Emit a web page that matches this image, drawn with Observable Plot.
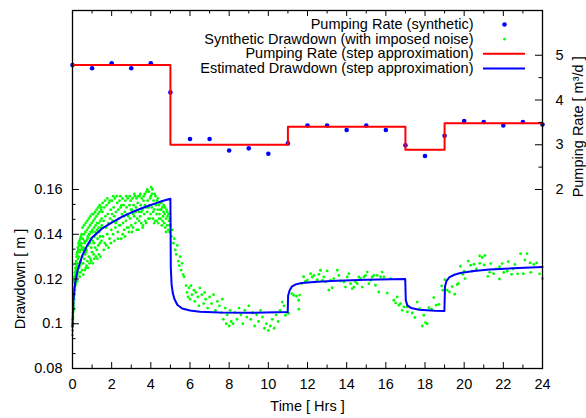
<!DOCTYPE html>
<html><head><meta charset="utf-8">
<script src="https://cdn.jsdelivr.net/npm/d3@7"></script>
<script src="https://cdn.jsdelivr.net/npm/@observablehq/plot@0.6"></script>
<style>body{margin:0;background:#fff}</style>
</head><body><div id="chart"></div>
<script>
// ---- data ----
const hours = [0,1,2,3,4,5,6,7,8,9,10,11,12,13,14,15,16,17,18,19,20,21,22,23,24];
const rateSynthetic = [4.78,4.71,4.82,4.71,4.82,4.17,3.13,3.13,2.87,2.92,2.80,3.03,3.43,3.43,3.33,3.43,3.33,2.99,2.75,3.20,3.53,3.51,3.43,3.51,3.45];
const stepTimes = [0,5,11,17,19,24];
const stepRates = [4.78,3.0,3.4,2.89,3.48];
const estimated = [
 [0,0.0986],[0.01,0.101],[0.02,0.104],[0.05,0.1105],[0.1,0.1155],[0.15,0.119],[0.25,0.1235],[0.35,0.1265],[0.5,0.1305],
 [0.75,0.135],[1.0,0.1385],[1.5,0.1425],[2.0,0.1452],[2.5,0.1477],[3.0,0.1497],[3.5,0.1515],[4.0,0.1531],[4.5,0.1546],[5.0,0.1559],
 [5.02,0.125],[5.06,0.1175],[5.12,0.1138],[5.2,0.1112],[5.35,0.1085],[5.6,0.1068],[6.0,0.1059],[6.5,0.1054],[7.5,0.1050],[9.0,0.1049],[10.99,0.1052],
 [11.01,0.1125],[11.08,0.1148],[11.2,0.1166],[11.4,0.1176],[11.7,0.1182],[12.5,0.1188],[13.5,0.1192],[15.0,0.1197],[16.99,0.1200],
 [17.02,0.1105],[17.1,0.1082],[17.3,0.107],[17.7,0.1063],[18.5,0.1058],[18.99,0.1057],
 [19.02,0.1165],[19.1,0.1192],[19.25,0.1208],[19.5,0.1219],[19.8,0.1227],[20.5,0.1236],[21.3,0.1242],[22.5,0.1248],[24.0,0.1254]
];
const noisy = [
 [0,0.095],[0.005,0.099],[0.01,0.097],[0.015,0.102],[0.02,0.1],[0.025,0.105],[0.03,0.103],[0.04,0.108],[0.045,0.106],[0.05,0.112],
 [0.06,0.109],[0.07,0.114],[0.08,0.111],[0.09,0.116],[0.1,0.113],[0.11,0.118],[0.12,0.115],[0.13,0.12],[0.14,0.117],[0.15,0.122],
 [0.16,0.118],[0.17,0.124],[0.18,0.119],[0.19,0.123],[0.2,0.12],[0.21,0.126],[0.22,0.121],[0.23,0.125],[0.24,0.119],[0.25,0.127],
 [0.26,0.122],[0.28,0.129],[0.3,0.123],[0.32,0.13],[0.34,0.125],[0.36,0.132],[0.38,0.126],[0.4,0.133],[0.42,0.128],[0.44,0.135],
 [0.46,0.127],[0.48,0.134],[0.5,0.13],
 [0.035,0.1],[0.055,0.107],[0.065,0.116],[0.085,0.119],[0.105,0.121],[0.125,0.123],[0.145,0.125],[0.165,0.127],[0.185,0.128],[0.205,0.13],
 [0.225,0.131],[0.245,0.132],[0.27,0.134],[0.29,0.133],[0.31,0.136],[0.33,0.135],[0.35,0.137],[0.37,0.121],[0.39,0.138],[0.41,0.123],
 [0.43,0.139],[0.45,0.136],[0.47,0.14],[0.49,0.124],
 [0.52,0.138],[0.54,0.127],[0.56,0.134],[0.58,0.14],[0.6,0.129],[0.62,0.136],[0.64,0.131],[0.66,0.141],[0.68,0.125],[0.7,0.137],
 [0.72,0.133],[0.74,0.142],[0.76,0.128],[0.78,0.139],[0.8,0.135],[0.82,0.143],[0.84,0.13],[0.86,0.14],[0.88,0.136],[0.9,0.144],
 [0.92,0.129],[0.94,0.138],[0.96,0.134],[0.98,0.145],[1.0,0.132],[1.02,0.141],[1.04,0.137],[1.06,0.146],[1.08,0.131],[1.1,0.143],
 [1.12,0.139],[1.14,0.147],[1.16,0.134],[1.18,0.144],[1.2,0.14],[1.22,0.148],[1.24,0.133],[1.26,0.142],[1.28,0.138],[1.3,0.149],
 [1.32,0.135],[1.34,0.145],[1.36,0.141],[1.38,0.15],[1.4,0.136],[1.42,0.146],[1.44,0.143],[1.46,0.151],[1.48,0.137],[1.5,0.144],
 [0.51,0.143],[0.55,0.122],[0.59,0.144],[0.63,0.124],[0.67,0.145],[0.71,0.126],[0.75,0.146],[0.79,0.125],[0.83,0.147],[0.87,0.127],
 [0.91,0.148],[0.95,0.128],[0.99,0.149],[1.03,0.127],[1.07,0.149],[1.11,0.129],[1.15,0.15],[1.19,0.13],[1.23,0.151],[1.27,0.129],
 [1.31,0.152],[1.35,0.131],[1.39,0.153],[1.43,0.13],[1.47,0.152],
 [0.53,0.133],[0.61,0.137],[0.69,0.132],[0.77,0.138],[0.85,0.14],[0.93,0.141],[1.01,0.142],[1.09,0.136],[1.17,0.141],[1.25,0.145],
 [1.33,0.143],[1.41,0.139],[1.49,0.147],
 [1.53,0.15],[1.56,0.139],[1.59,0.146],[1.62,0.152],[1.65,0.136],[1.68,0.148],[1.71,0.143],[1.74,0.153],[1.77,0.14],[1.8,0.149],
 [1.83,0.145],[1.86,0.154],[1.89,0.138],[1.92,0.147],[1.95,0.151],[1.98,0.142],[2.01,0.155],[2.04,0.146],[2.07,0.14],[2.1,0.152],
 [2.13,0.148],[2.16,0.156],[2.19,0.143],[2.22,0.15],[2.25,0.146],[2.28,0.154],[2.31,0.141],[2.34,0.151],[2.37,0.147],[2.4,0.155],
 [2.43,0.144],[2.46,0.152],[2.49,0.138],[2.52,0.149],[2.55,0.156],[2.58,0.145],[2.61,0.153],[2.64,0.142],[2.67,0.15],[2.7,0.155],
 [2.73,0.146],[2.76,0.152],[2.79,0.143],[2.82,0.156],[2.85,0.148],[2.88,0.141],[2.91,0.153],[2.94,0.147],[2.97,0.155],[3.0,0.144],
 [1.54,0.154],[1.6,0.133],[1.66,0.155],[1.72,0.135],[1.78,0.156],[1.84,0.134],[1.9,0.155],[1.96,0.136],[2.02,0.149],[2.08,0.157],
 [2.14,0.137],[2.2,0.145],[2.26,0.157],[2.32,0.138],[2.38,0.144],[2.44,0.157],[2.5,0.153],[2.56,0.14],[2.62,0.148],[2.68,0.139],
 [2.74,0.157],[2.8,0.149],[2.86,0.143],[2.92,0.157],[2.98,0.151],
 [3.03,0.151],[3.06,0.156],[3.09,0.143],[3.12,0.153],[3.15,0.148],[3.18,0.157],[3.21,0.145],[3.24,0.152],[3.27,0.156],[3.3,0.147],
 [3.33,0.154],[3.36,0.142],[3.39,0.15],[3.42,0.157],[3.45,0.148],[3.48,0.153],[3.51,0.145],[3.54,0.156],[3.57,0.151],[3.6,0.144],
 [3.63,0.155],[3.66,0.149],[3.69,0.158],[3.72,0.146],[3.75,0.152],[3.78,0.159],[3.81,0.15],[3.84,0.155],[3.87,0.147],[3.9,0.159],
 [3.93,0.153],[3.96,0.156],[3.99,0.149],[4.02,0.161],[4.05,0.152],[4.08,0.16],[4.11,0.147],[4.14,0.155],[4.17,0.151],[4.2,0.158],
 [4.23,0.146],[4.26,0.153],[4.29,0.149],[4.32,0.155],[4.35,0.151],[4.38,0.145],[4.41,0.153],[4.44,0.149],[4.47,0.154],[4.5,0.147],
 [4.53,0.151],[4.56,0.144],[4.59,0.152],[4.62,0.148],[4.65,0.15],[4.68,0.145],[4.71,0.149],[4.74,0.143],[4.77,0.147],[4.8,0.151],
 [4.83,0.144],[4.86,0.148],[4.89,0.142],[4.92,0.146],[4.95,0.144],[4.98,0.147],
 [3.04,0.141],[3.1,0.149],[3.16,0.158],[3.22,0.15],[3.28,0.142],[3.34,0.157],[3.4,0.146],[3.46,0.158],[3.52,0.15],[3.58,0.143],
 [3.64,0.157],[3.7,0.153],[3.76,0.145],[3.82,0.16],[3.88,0.152],[3.94,0.147],[4.0,0.157],[4.06,0.158],[4.12,0.15],[4.18,0.145],
 [4.24,0.157],[4.3,0.146],[4.36,0.156],[4.42,0.147],[4.48,0.151],[4.54,0.154],[4.6,0.146],[4.66,0.153],[4.72,0.152],[4.78,0.141],
 [4.84,0.15],[4.9,0.149],[4.96,0.141],
 [5.0,0.144],[5.05,0.139],[5.1,0.142],[5.15,0.136],[5.2,0.138],[5.25,0.133],[5.3,0.131],[5.35,0.135],[5.4,0.128],[5.45,0.126],
 [5.5,0.13],[5.55,0.124],[5.6,0.127],[5.65,0.122],[5.7,0.121],[5.8,0.117],[5.85,0.114],[5.9,0.112],[5.95,0.116],[6.0,0.111],
 [6.05,0.117],[6.1,0.113],[6.2,0.115],[6.25,0.11],[6.3,0.114],[6.4,0.112],[6.45,0.108],[6.5,0.116],[6.6,0.113],[6.7,0.109],
 [6.75,0.114],[6.8,0.111],[6.9,0.107],[7.0,0.112],[7.1,0.109],[7.2,0.113],[7.3,0.106],[7.4,0.11],[7.5,0.108],[7.6,0.105],
 [7.65,0.111],[7.7,0.102],[7.8,0.107],[7.85,0.1],[7.9,0.104],[8.0,0.099],[8.05,0.106],[8.1,0.101],[8.2,0.1],[8.3,0.105],
 [8.4,0.102],[8.5,0.107],[8.6,0.104],[8.7,0.1],[8.8,0.106],[8.9,0.103],[9.0,0.108],[9.1,0.102],[9.2,0.105],[9.3,0.099],
 [9.4,0.104],[9.5,0.101],[9.6,0.106],[9.7,0.103],[9.8,0.098],[9.9,0.1],[10.0,0.097],[10.1,0.099],[10.2,0.102],[10.3,0.098],
 [10.4,0.104],[10.5,0.101],[10.6,0.106],[10.71,0.1097],[10.8,0.108],[10.87,0.1038],[10.95,0.105],[11.04,0.1046],[11.2,0.1135],
 [11.3,0.1127],[11.44,0.1123],[11.55,0.1105],[11.56,0.1065],[11.6,0.1128],[11.7,0.118],[11.8,0.121],[11.9,0.119],[12.0,0.1195],
 [12.16,0.1224],[12.24,0.1209],[12.33,0.1216],[12.41,0.1187],[12.5,0.1197],[12.58,0.1221],[12.66,0.1239],[12.75,0.1194],[12.83,0.1209],[12.92,0.1187],
 [13.0,0.1236],[13.09,0.115],[13.17,0.1194],[13.26,0.1161],[13.34,0.1202],[13.52,0.1239],[13.6,0.1216],[13.69,0.1191],[13.86,0.1187],[13.94,0.1164],
 [14.03,0.1209],[14.11,0.1224],[14.2,0.1179],[14.28,0.1157],[14.37,0.1164],[14.45,0.1187],[14.54,0.1179],[14.62,0.1209],[14.71,0.1202],[14.79,0.1164],
 [14.88,0.1209],[14.96,0.1216],[15.05,0.1231],[15.13,0.1179],[15.22,0.1194],[15.3,0.1209],[15.39,0.1216],[15.47,0.1172],[15.56,0.1216],[15.64,0.1142],
 [15.73,0.1209],[15.81,0.1231],[15.9,0.1209],[16.07,0.1137],[16.24,0.1202],[16.41,0.1105],[16.5,0.1093],[16.58,0.112],[16.67,0.1083],[16.75,0.109],
 [16.84,0.106],[16.92,0.1075],[17.09,0.1075],[17.1,0.1053],[17.35,0.1048],[17.48,0.1028],[17.6,0.1097],[17.72,0.1068],[17.86,0.099],[17.94,0.1038],
 [18.03,0.1005],[18.11,0.1],[18.2,0.1072],[18.33,0.1065],[18.45,0.1117],[18.57,0.1083],[18.71,0.1087],[18.85,0.1169],[18.91,0.115],[19.01,0.1197],
 [19.13,0.115],[19.25,0.1142],[19.39,0.1166],[19.52,0.1132],[19.64,0.1175],[19.7,0.118],[19.81,0.1257],[19.93,0.1221],[20.0,0.1235],[20.04,0.1202],
 [20.21,0.128],[20.33,0.1261],[20.4,0.1235],[20.5,0.1266],[20.62,0.1245],[20.79,0.1303],[20.8,0.127],[20.92,0.1296],[21.02,0.1263],[21.06,0.1305],
 [21.21,0.1212],[21.3,0.123],[21.36,0.1269],[21.5,0.1224],[21.63,0.1245],[21.8,0.12],[21.8,0.1255],[21.94,0.1269],[22.02,0.1229],[22.2,0.1235],
 [22.25,0.1278],[22.42,0.1221],[22.5,0.1245],[22.59,0.1265],[22.73,0.1223],[22.88,0.1313],[23.02,0.1224],[23.1,0.1285],[23.21,0.1313],[23.36,0.1272],
 [23.4,0.123],[23.56,0.1265],[23.7,0.1272],[23.85,0.1223],[24.0,0.1202]
];
const xTickLabels = [0,2,4,6,8,10,12,14,16,18,20,22,24];
const xMinorTicks = [1,3,5,7,9,11,13,15,17,19,21,23];
const drawdownTickLabels = [0.08,0.1,0.12,0.14,0.16];
const rateTickLabels = [2,3,4,5];
const rateMinorTicks = [2.5,3.5,4.5];
const legendLabels = ["Pumping Rate (synthetic)","Synthetic Drawdown (with imposed noise)","Pumping Rate (step approximation)","Estimated Drawdown (step approximation)"];

// ---- scales ----
const ddDomain = [0.08, 0.24];
const rateDomain = [-2, 6];
const toDD = r => ddDomain[0] + (r - rateDomain[0]) * (ddDomain[1]-ddDomain[0])/(rateDomain[1]-rateDomain[0]);
const fromDD = v => rateDomain[0] + (v - ddDomain[0]) * (rateDomain[1]-rateDomain[0])/(ddDomain[1]-ddDomain[0]);
const ddMinor = [];
for (let i = 0; i < drawdownTickLabels.length - 1; i++) {
  const a = drawdownTickLabels[i], b = drawdownTickLabels[i+1];
  ddMinor.push(a + (b-a)/3, a + 2*(b-a)/3);
}

const W = 586, H = 418, mL = 72, mR = 44, mT = 10, mB = 50;
const innerH = H - mT - mB, innerW = W - mL - mR;

const rateTable = hours.map((t,i) => ({t, r: rateSynthetic[i]}));
const stepTable = stepTimes.map((t,i) => ({t, r: stepRates[Math.min(i, stepRates.length-1)]}));

const RED = "#ff0000", BLUE = "#0000ff", GREEN = "#00ff00";
const legendDy = [14, 28.7, 43.3, 58];

const chart = Plot.plot({
  width: W, height: H, marginLeft: mL, marginRight: mR, marginTop: mT, marginBottom: mB,
  x: {domain: [0, 24]},
  y: {domain: ddDomain},
  style: {fontFamily: "'Liberation Sans', Arial, sans-serif", fontSize: "14.5px", background: "#fff", color: "#000"},
  marks: [
    // data
    Plot.dot(rateTable, {x: "t", y: d => toDD(d.r), r: 2.3, fill: BLUE, stroke: "none"}),
    Plot.dot(noisy, {x: d => d[0], y: d => d[1], r: 1.4, fill: GREEN, stroke: "none"}),
    Plot.line(stepTable, {x: "t", y: d => toDD(d.r), curve: "step-after", stroke: RED, strokeWidth: 2}),
    Plot.line(estimated, {x: d => d[0], y: d => d[1], stroke: BLUE, strokeWidth: 2}),
    // frame
    Plot.frame({stroke: "#000", strokeWidth: 1.3}),
    // inward ticks
    Plot.tickX(xTickLabels, {x: d => d, insetTop: innerH - 6, stroke: "#000"}),
    Plot.tickX(xMinorTicks, {x: d => d, insetTop: innerH - 3.5, stroke: "#000"}),
    Plot.tickX(xTickLabels, {x: d => d, insetBottom: innerH - 6, stroke: "#000"}),
    Plot.tickX(xMinorTicks, {x: d => d, insetBottom: innerH - 3.5, stroke: "#000"}),
    Plot.tickY(drawdownTickLabels, {y: d => d, insetRight: innerW - 7, stroke: "#000"}),
    Plot.tickY(ddMinor, {y: d => d, insetRight: innerW - 3.5, stroke: "#000"}),
    Plot.tickY(rateTickLabels.map(toDD), {y: d => d, insetLeft: innerW - 7, stroke: "#000"}),
    Plot.tickY(rateMinorTicks.map(toDD), {y: d => d, insetLeft: innerW - 3.5, stroke: "#000"}),
    // tick labels
    Plot.axisX({ticks: xTickLabels, tickSize: 0, tickPadding: 10, label: null, tickFormat: d => String(d)}),
    Plot.axisY({ticks: drawdownTickLabels, tickSize: 0, tickPadding: 10, label: null, tickFormat: d => String(+d.toFixed(2))}),
    Plot.axisY({anchor: "right", ticks: rateTickLabels.map(toDD), tickSize: 0, tickPadding: 13, label: null, tickFormat: v => String(Math.round(fromDD(v)))}),
    // axis titles
    Plot.text(["Time [ Hrs ]"], {frameAnchor: "bottom", dy: 38, lineAnchor: "middle", text: d => d}),
    Plot.text([0.12], {y: d => d, frameAnchor: "left", dx: -52, rotate: -90, textAnchor: "middle", lineAnchor: "middle", text: () => "Drawdown [ m ]"}),
    Plot.text([toDD(3.4)], {y: d => d, frameAnchor: "right", dx: 36, rotate: -90, textAnchor: "middle", lineAnchor: "middle", text: () => "Pumping Rate [ m³/d ]"}),
    // legend
    ...legendLabels.map((s, i) => Plot.text([s], {frameAnchor: "top-right", dx: -69, dy: legendDy[i], textAnchor: "end", lineAnchor: "middle", text: d => d})),
    Plot.dot([0], {frameAnchor: "top-right", dx: -38, dy: legendDy[0], r: 2.3, fill: BLUE, stroke: "none"}),
    Plot.dot([0], {frameAnchor: "top-right", dx: -38, dy: legendDy[1], r: 1.4, fill: GREEN, stroke: "none"}),
    Plot.ruleY([ddDomain[1]], {dy: legendDy[2], insetLeft: innerW - 59, insetRight: 17, stroke: RED, strokeWidth: 2}),
    Plot.ruleY([ddDomain[1]], {dy: legendDy[3], insetLeft: innerW - 59, insetRight: 17, stroke: BLUE, strokeWidth: 2})
  ]
});
document.getElementById("chart").appendChild(chart);
</script>
</body></html>
